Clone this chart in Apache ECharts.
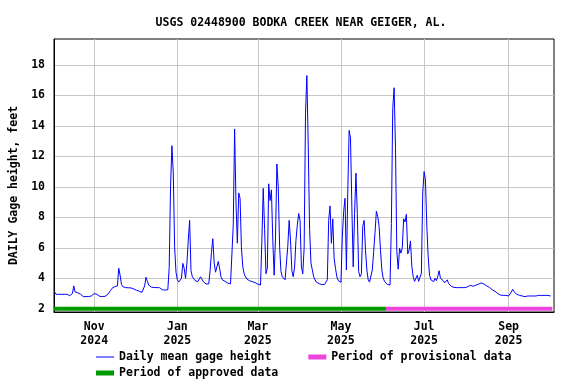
<!DOCTYPE html>
<html><head><meta charset="utf-8">
<script src="https://cdn.jsdelivr.net/npm/echarts@6/dist/echarts.min.js"></script>
<style>html,body{margin:0;padding:0;background:#fff}#c{width:576px;height:384px}</style>
</head><body><div id="c"></div>
<script>
const titleText = 'USGS 02448900 BODKA CREEK NEAR GEIGER, AL.';
const yAxisTitle = 'DAILY Gage height, feet';
const seriesNames = ['Daily mean gage height', 'Period of provisional data', 'Period of approved data'];
// daily values starting 2024-10-03
const firstDay = '2024-10-03';
const gageHeight = [
3.10,2.95,2.95,2.95,2.95,2.95,2.95,2.95,2.95,2.95,
2.90,2.86,2.86,3.00,3.50,3.10,3.00,3.05,3.15,2.95,
2.85,2.80,2.80,2.80,2.80,2.80,2.80,2.85,2.90,3.00,
3.05,2.95,2.88,2.82,2.80,2.80,2.80,2.82,2.88,2.95,
3.05,3.20,3.34,3.36,3.45,3.40,3.50,4.66,4.20,3.60,
3.45,3.40,3.39,3.39,3.38,3.38,3.37,3.35,3.30,3.25,
3.22,3.20,3.15,3.10,3.08,2.97,3.50,4.07,3.80,3.55,
3.45,3.42,3.40,3.40,3.39,3.39,3.38,3.38,3.30,3.25,
3.23,3.23,3.23,3.25,4.70,10.00,12.70,10.90,6.00,4.40,
3.90,3.75,3.63,4.00,4.98,4.66,4.00,4.98,6.50,7.80,
4.50,4.10,4.00,3.85,3.80,3.78,3.85,4.10,3.95,3.78,
3.65,3.63,3.63,3.63,4.50,5.68,6.60,5.00,4.40,4.33,
5.10,4.66,4.10,3.90,3.78,3.80,3.72,3.68,3.66,3.64,
3.62,7.50,13.80,9.00,6.30,9.60,9.25,6.00,4.75,4.30,
4.10,3.95,3.88,3.84,3.80,3.78,3.75,3.72,3.68,3.62,
3.58,3.56,6.50,9.90,7.20,4.30,4.66,10.20,9.10,9.80,
6.50,4.20,6.70,11.50,10.00,6.10,4.45,4.10,4.00,3.90,
3.80,6.10,7.80,6.50,4.50,4.10,4.75,6.50,7.50,8.25,
7.80,4.75,4.30,6.00,14.80,17.30,12.75,7.20,5.00,4.55,
4.10,3.90,3.75,3.70,3.65,3.60,3.58,3.56,3.60,3.65,
3.90,7.80,8.75,6.30,7.90,5.30,4.66,4.10,3.85,3.78,
3.74,6.70,8.40,9.25,4.55,9.60,13.70,13.20,8.70,4.75,
8.25,10.90,8.25,4.45,4.10,4.30,7.40,7.80,5.85,4.55,
3.90,3.75,3.67,4.55,5.75,7.00,8.40,8.05,7.40,5.85,
4.55,4.00,3.80,3.67,3.60,3.56,3.56,7.60,15.15,16.50,
12.60,5.75,4.60,5.97,5.65,6.00,7.90,7.70,8.20,5.60,
5.85,6.45,4.77,4.10,3.80,3.80,4.20,3.80,3.67,4.33,
9.60,11.00,10.45,7.40,5.40,4.20,3.90,3.80,3.78,4.00,
3.85,4.10,4.50,4.00,3.90,3.85,3.70,3.80,3.90,3.65,
3.55,3.48,3.42,3.40,3.39,3.39,3.39,3.39,3.39,3.39,
3.39,3.39,3.42,3.45,3.50,3.54,3.50,3.48,3.45,3.55,
3.67,3.62,3.62,3.70,3.68,3.62,3.55,3.50,3.45,3.40,
3.35,3.25,3.20,3.15,3.12,3.00,2.95,2.90,2.88,2.88,
2.90,2.88,2.85,2.84,2.90,3.10,3.28,3.12,3.00,2.95,
2.90,2.88,2.86,2.84,2.82,2.80,2.84,2.84,2.84,2.84,
2.84,2.84,2.84,2.84,2.84,2.88,2.88,2.88,2.88,2.88,
2.88,2.88,2.88,2.86,2.84
];
const approvedPeriod = ['2024-10-02T12:00:00Z', '2025-06-03T00:00:00Z'];
const provisionalPeriod = ['2025-06-03T00:00:00Z', '2025-10-03T00:00:00Z'];
const periodLevel = 2;
const xTickDates = ['2024-11-01T00:00:00Z','2025-01-01T00:00:00Z','2025-03-01T00:00:00Z','2025-05-01T00:00:00Z','2025-07-01T00:00:00Z','2025-09-01T00:00:00Z'];
const xTickLabels = ['Nov\n2024','Jan\n2025','Mar\n2025','May\n2025','Jul\n2025','Sep\n2025'];
const yTickValues = [2,4,6,8,10,12,14,16,18];
const xRange = ['2024-10-02T12:00:00Z','2025-10-04T07:00:00Z'];
const yRange = [1.79, 19.7];

const DAY = 86400000;
const t0 = Date.parse(firstDay + 'T00:00:00Z');
const lineData = gageHeight.map((v, i) => [t0 + i * DAY, v]);
const xTicks = xTickDates.map(d => Date.parse(d));
const FONT = 'DejaVu Sans Mono';
const txt = { fontFamily: FONT, fontWeight: 'bold', fontSize: 11.5, color: '#000' };

const chart = echarts.init(document.getElementById('c'), null, { renderer: 'canvas' });
chart.setOption({
  animation: false,
  backgroundColor: '#fff',
  title: { text: titleText, left: 296, top: 12, textAlign: 'center',
    textStyle: Object.assign({}, txt) },
  grid: { left: 51, right: 22, top: 39, bottom: 72, show: true, borderColor: '#000', borderWidth: 1, containLabel: false },
  legend: [
    { left: 91, top: 346, itemWidth: 18, itemHeight: 5, itemGap: 37, icon: 'rect',
      data: [{ name: seriesNames[0], icon: 'path://M0,2 L18,2 L18,3 L0,3 Z' }, { name: seriesNames[1] }],
      textStyle: Object.assign({}, txt), selectedMode: false },
    { left: 91, top: 362, itemWidth: 18, itemHeight: 5, icon: 'rect',
      data: [seriesNames[2]], textStyle: Object.assign({}, txt), selectedMode: false }
  ],
  xAxis: {
    type: 'value', min: Date.parse(xRange[0]), max: Date.parse(xRange[1]),
    axisLine: { show: true, lineStyle: { color: '#000', width: 1 } },
    axisTick: { show: false, customValues: xTicks },
    splitLine: { show: true, lineStyle: { color: '#c8c8c8', width: 1 } },
    axisLabel: Object.assign({ customValues: xTicks, margin: 8, lineHeight: 14,
      formatter: (v) => { const i = xTicks.indexOf(v); return i >= 0 ? xTickLabels[i] : ''; } }, txt)
  },
  yAxis: {
    type: 'value', min: yRange[0], max: yRange[1],
    name: yAxisTitle, nameLocation: 'middle', nameGap: 34,
    nameTextStyle: Object.assign({ padding: [0, 20, 0, 0] }, txt),
    axisLine: { show: true, lineStyle: { color: '#000', width: 1 } },
    axisTick: { show: false, customValues: yTickValues },
    splitLine: { show: true, lineStyle: { color: '#c8c8c8', width: 1 } },
    axisLabel: Object.assign({ customValues: yTickValues, margin: 9 }, txt)
  },
  series: [
    { name: seriesNames[2], type: 'line', data: approvedPeriod.map(d => [Date.parse(d), periodLevel]),
      showSymbol: false, symbol: 'none', lineStyle: { color: '#009900', width: 4 }, itemStyle: { color: '#009900' }, z: 2 },
    { name: seriesNames[1], type: 'line', data: provisionalPeriod.map(d => [Date.parse(d), periodLevel]),
      showSymbol: false, symbol: 'none', lineStyle: { color: '#ee44dd', width: 4 }, itemStyle: { color: '#ee44dd' }, z: 2 },
    { name: seriesNames[0], type: 'line', data: lineData,
      showSymbol: false, symbol: 'none', lineStyle: { color: '#0000ff', width: 1 }, itemStyle: { color: '#0000ff' }, z: 3 }
  ]
});
</script></body></html>
